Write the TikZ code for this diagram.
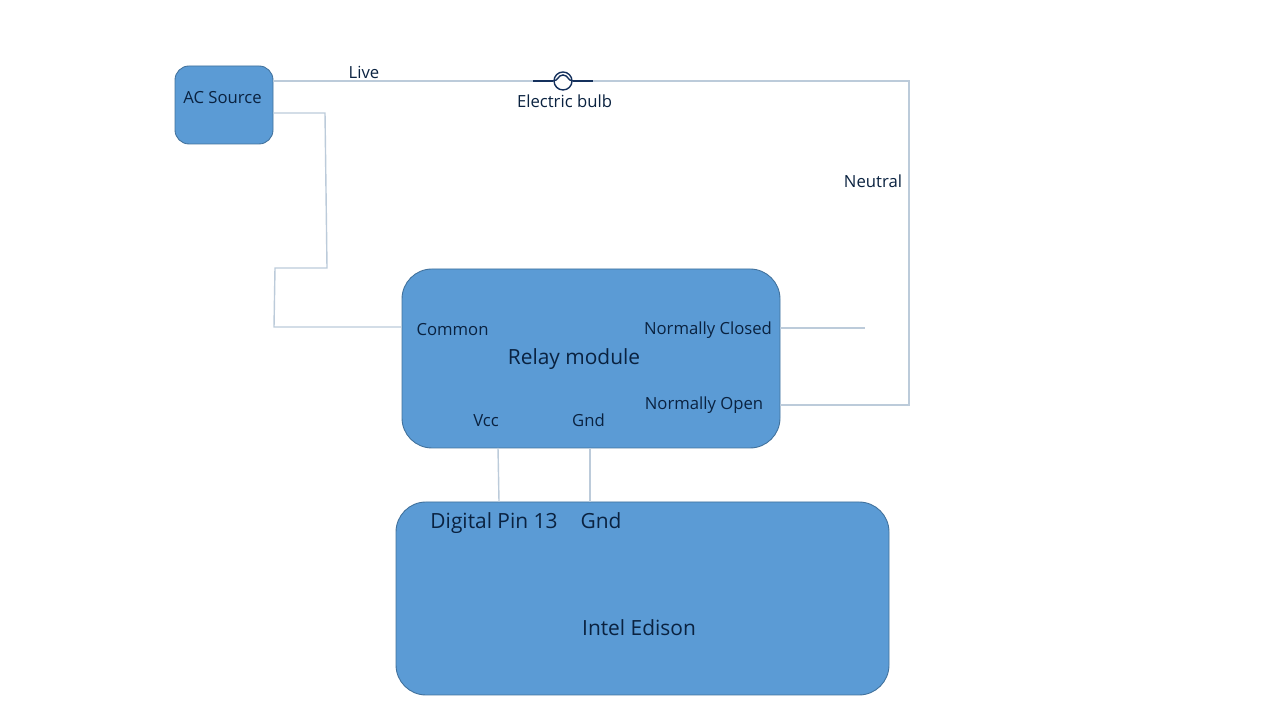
\documentclass[tikz,border=0pt]{standalone}
\usepackage{fontspec}
\setmainfont{Open Sans}
\usepackage{xcolor}
\definecolor{boxblue}{HTML}{5B9BD5}
\definecolor{boxedge}{HTML}{41719C}
\definecolor{wirecol}{HTML}{BCCBDA}
\definecolor{textcol}{HTML}{0A2240}
\definecolor{leadcol}{HTML}{14305C}

\begin{document}
\begin{tikzpicture}[
        block/.style={rectangle, draw=boxedge, fill=boxblue, line width=0.25pt, rounded corners=0.3cm, inner sep=0pt},
        wire/.style={draw=wirecol, line width=0.4pt},
        lead/.style={draw=leadcol, line width=0.4pt},
        label/.style={font=\fontsize{4.75pt}{6pt}\selectfont, text=textcol, inner sep=0pt, text height=3.6pt, text depth=0pt},
        biglabel/.style={font=\fontsize{5.95pt}{7pt}\selectfont, text=textcol, inner sep=0pt, text height=4.4pt, text depth=0pt}
    ]
        \useasboundingbox (0,0) rectangle (12.8,7.2);

        % ========== BLOCKS ==========
        \node[block, rounded corners=0.14cm, minimum width=0.98cm, minimum height=0.78cm] (acSource) at (2.24,6.15) {};
        \node[block, minimum width=3.78cm, minimum height=1.79cm] (relay) at (5.91,3.615) {};
        \node[block, minimum width=4.93cm, minimum height=1.93cm] (edison) at (6.425,1.215) {};
        \node[circle, draw=leadcol, line width=0.4pt, minimum size=0.18cm, inner sep=0pt] (bulb) at (5.63,6.39) {};

        % ========== WIRE CORNERS ==========
        \coordinate (liveStart) at (acSource.east |- 0,6.39);
        \coordinate (neutralTop) at (9.09,6.39);
        \coordinate (neutralBottom) at (9.09,3.15);
        \coordinate (openPin) at (relay.east |- 0,3.15);
        \coordinate (closedPin) at (relay.east |- 0,3.92);
        \coordinate (closedEnd) at (8.65,3.92);
        \coordinate (returnStart) at (acSource.east |- 0,6.07);
        \coordinate (returnA) at (3.25,6.07);
        \coordinate (returnB) at (3.27,4.52);
        \coordinate (returnC) at (2.75,4.52);
        \coordinate (returnD) at (2.74,3.93);
        \coordinate (commonPin) at (relay.west |- 0,3.93);
        \coordinate (bulbLeft) at (5.33,6.39);
        \coordinate (bulbRight) at (5.93,6.39);

        % ========== AC SIDE ==========
        \draw[wire] (liveStart) -- (bulb.west);
        \draw[wire] (bulb.east) -- (neutralTop) -- (neutralBottom) -- (openPin);
        \draw[wire] (closedPin) -- (closedEnd);
        \draw[wire] (returnStart) -- (returnA) -- (returnB) -- (returnC) -- (returnD) -- (commonPin);
        \draw[lead] (bulbLeft) -- (bulb.west);
        \draw[lead] (bulb.east) -- (bulbRight);
        % bulb filament
        \draw[lead] (bulb.west) .. controls ([xshift=-0.05cm]bulb.center) and ([xshift=-0.05cm,yshift=0.06cm]bulb.center) .. ([yshift=0.06cm]bulb.center) .. controls ([xshift=0.05cm,yshift=0.06cm]bulb.center) and ([xshift=0.05cm]bulb.center) .. (bulb.east);

        % ========== RELAY TO BOARD ==========
        \coordinate (vccPin) at (4.98,2.72);
        \coordinate (digitalPin) at (4.99,2.18);
        \coordinate (gndPin) at (5.90,2.72);
        \coordinate (boardGnd) at (5.90,2.18);
        \draw[wire] (vccPin) -- (digitalPin);
        \draw[wire] (gndPin) -- (boardGnd);

        % ========== LABELS ==========
        \node[label] (acLabel) at (2.225,6.23) {AC Source};
        \node[label] (liveLabel) at (3.64,6.48) {Live};
        \node[label] (bulbLabel) at (5.645,6.19) {Electric bulb};
        \node[label] (neutralLabel) at (8.73,5.39) {Neutral};
        \node[label] (commonLabel) at (4.525,3.91) {Common};
        \node[label] (closedLabel) at (7.08,3.92) {Normally Closed};
        \node[label] (openLabel) at (7.04,3.17) {Normally Open};
        \node[label] (vccLabel) at (4.86,3.00) {Vcc};
        \node[label] (gndLabel) at (5.885,3.00) {Gnd};
        \node[biglabel] (relayLabel) at (5.74,3.63) {Relay module};
        \node[biglabel] (digitalLabel) at (4.94,1.99) {Digital Pin 13};
        \node[biglabel] (boardGndLabel) at (6.01,1.99) {Gnd};
        \node[biglabel] (edisonLabel) at (6.39,0.92) {Intel Edison};
\end{tikzpicture}
\end{document}
